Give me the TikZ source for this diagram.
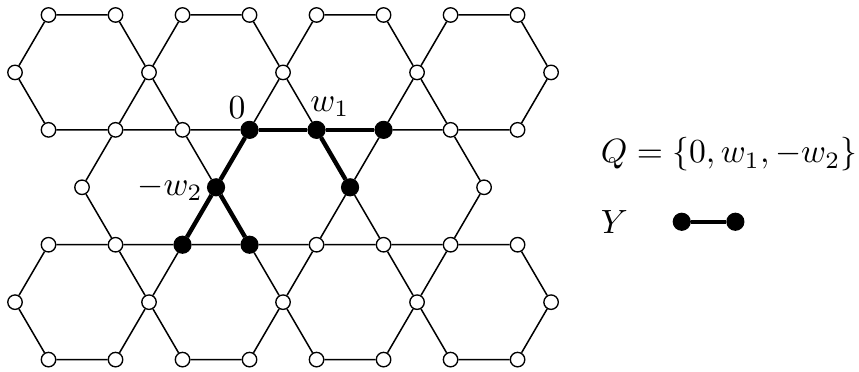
\documentclass[tikz,border=0pt]{standalone}
\usepackage{amsmath}
\begin{document}
\begin{tikzpicture}[x=0.35cm,y=-0.6cm,
    vtx/.style={circle,draw,fill=white,line width=0.4pt,inner sep=0pt,minimum size=4.3pt},
    bdot/.style={circle,draw,fill=black,inner sep=0pt,minimum size=5pt},
    edge/.style={line width=0.45pt},
    yedge/.style={line width=1.3pt}]
    \useasboundingbox (-0.448,-0.261) rectangle (25.19,6.209);
    % vertices of the lattice
    \foreach \j in {0,2,4,6}
        \foreach \i in {1,3,...,15}
            \node[vtx] (n\i-\j) at (\i,\j) {};
    \foreach \j in {1,5}
        \foreach \i in {0,4,8,12,16}
            \node[vtx] (n\i-\j) at (\i,\j) {};
    \foreach \i in {2,6,10,14}
        \node[vtx] (n\i-3) at (\i,3) {};
    % the points of Y
    \node[bdot] (n7-2) at (7,2) {};
    \node[bdot] (n9-2) at (9,2) {};
    \node[bdot] (n11-2) at (11,2) {};
    \node[bdot] (n10-3) at (10,3) {};
    \node[bdot] (n6-3) at (6,3) {};
    \node[bdot] (n5-4) at (5,4) {};
    \node[bdot] (n7-4) at (7,4) {};
    % hexagons
    \foreach \c/\r in {2/1,6/1,10/1,14/1,4/3,8/3,12/3,2/5,6/5,10/5,14/5} {
        \pgfmathtruncatemacro\xl{\c-1}
        \pgfmathtruncatemacro\xr{\c+1}
        \pgfmathtruncatemacro\xL{\c-2}
        \pgfmathtruncatemacro\xR{\c+2}
        \pgfmathtruncatemacro\rt{\r-1}
        \pgfmathtruncatemacro\rb{\r+1}
        \draw[edge] (n\xl-\rt) -- (n\xr-\rt) -- (n\xR-\r) -- (n\xr-\rb)
            -- (n\xl-\rb) -- (n\xL-\r) -- (n\xl-\rt);
    }
    % Y
    \draw[yedge] (n7-2) -- (n9-2) -- (n11-2);
    \draw[yedge] (n9-2) -- (n10-3);
    \draw[yedge] (n7-2) -- (n6-3) -- (n5-4);
    \draw[yedge] (n6-3) -- (n7-4);
    \node (lab0) at (6.63,1.62) {$0$};
    \node (labw1) at (9.4,1.6) {$w_1$};
    \node (labw2) at (4.63,3.01) {$-w_2$};
    % legend
    \node[anchor=west] (qset) at (17.13,2.43) {$Q=\{0,w_1,-w_2\}$};
    \node[anchor=west] (ylab) at (17.13,3.6) {$Y$};
    \node[bdot] (ya) at (19.9,3.6) {};
    \node[bdot] (yb) at (21.5,3.6) {};
    \draw[yedge] (ya) -- (yb);
\end{tikzpicture}
\end{document}
